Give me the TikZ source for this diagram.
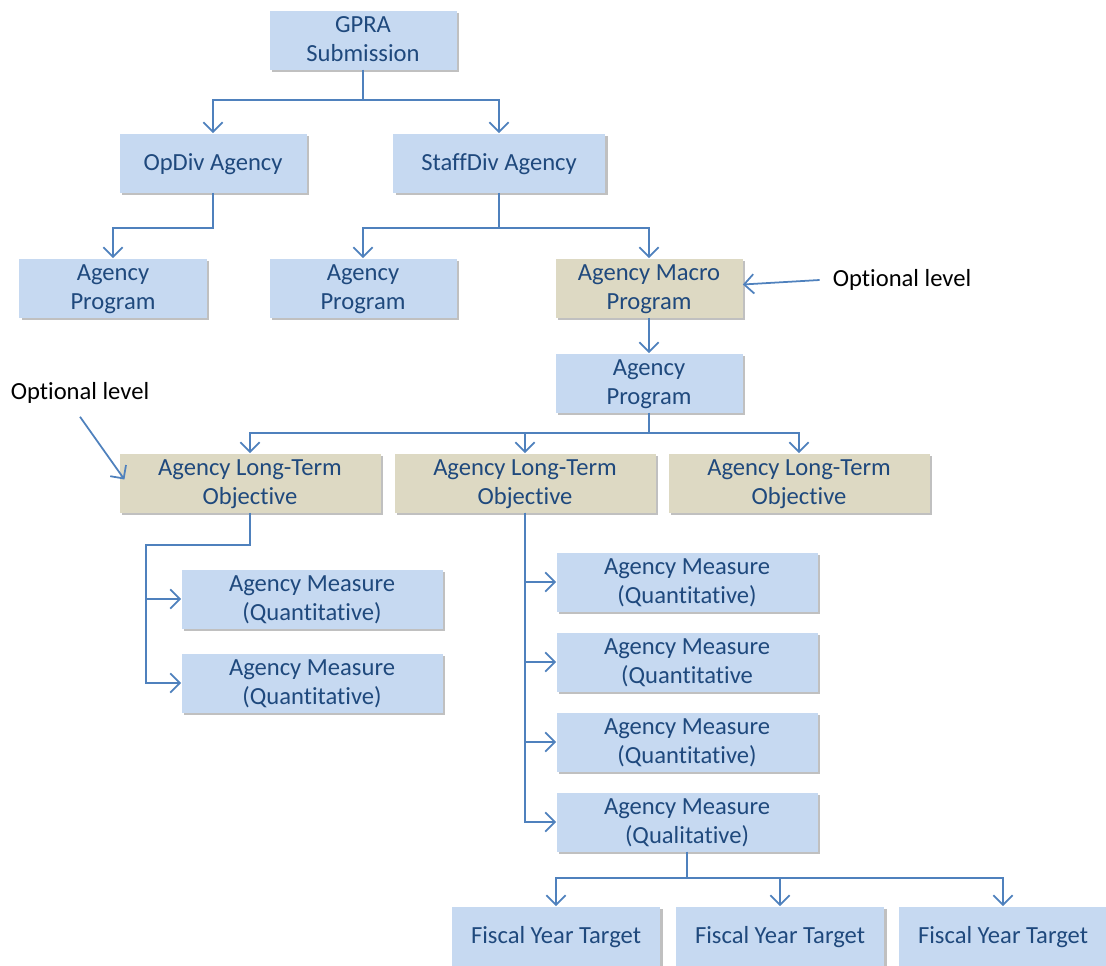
\documentclass[tikz,border=0pt]{standalone}
\usepackage{fontspec}
\setmainfont{Carlito}[Ligatures=NoCommon]
\usepackage{tikz}
\usetikzlibrary{arrows.meta,shadows}
\usepackage{xcolor}
\definecolor{BoxBlue}{HTML}{C6D9F1}
\definecolor{BoxTan}{HTML}{DDD9C3}
\definecolor{TextBlue}{HTML}{1F497D}
\definecolor{LineBlue}{HTML}{4F81BD}

\tikzset{
  box/.style={fill=BoxBlue, text=TextBlue, align=center, inner sep=0pt,
    minimum width=#1, minimum height=1.18cm, text depth=1.5pt,
    font=\fontsize{14pt}{16.5pt}\selectfont,
    drop shadow={shadow xshift=1.6pt, shadow yshift=-1.6pt, fill=black!45, opacity=0.55}},
  box/.default=3.74cm,
  optbox/.style={box=#1, fill=BoxTan},
  optbox/.default=3.74cm,
  note/.style={font=\fontsize{14pt}{16.5pt}\selectfont, text=black},
  link/.style={draw=LineBlue, line width=1pt, -{Straight Barb[length=5.5pt,width=11pt]}},
}

\begin{document}
\begin{tikzpicture}[x=0.2mm, y=-0.2mm]  % pixel grid, y down
  \useasboundingbox (0,0) rectangle (1106,965);

  % top levels
  \node[box] (gpra) at (363,40) {GPRA\\Submission};
  \node[box] (opdiv) at (213,163) {OpDiv Agency};
  \node[box=4.24cm] (staffdiv) at (499,163) {StaffDiv Agency};
  \node[box] (progA) at (113,288) {Agency\\Program};
  \node[box] (progB) at (363,288) {Agency\\Program};
  \node[optbox] (macro) at (649,288) {Agency Macro\\Program};
  \node[box] (progC) at (649,383) {Agency\\Program};

  % objectives
  \node[optbox=5.22cm] (lto1) at (250,483) {Agency Long-Term\\Objective};
  \node[optbox=5.22cm] (lto2) at (525,483) {Agency Long-Term\\Objective};
  \node[optbox=5.22cm] (lto3) at (799,483) {Agency Long-Term\\Objective};

  % measures
  \node[box=5.22cm] (mq1) at (312,599) {Agency Measure\\(Quantitative)};
  \node[box=5.22cm] (mq2) at (312,683) {Agency Measure\\(Quantitative)};
  \node[box=5.22cm] (mr1) at (687,582) {Agency Measure\\(Quantitative)};
  \node[box=5.22cm] (mr2) at (687,662) {Agency Measure\\(Quantitative};
  \node[box=5.22cm] (mr3) at (687,742) {Agency Measure\\(Quantitative)};
  \node[box=5.22cm] (mr4) at (687,822) {Agency Measure\\(Qualitative)};

  % targets
  \node[box=4.16cm] (fy1) at (556,936) {Fiscal Year Target};
  \node[box=4.16cm] (fy2) at (780,936) {Fiscal Year Target};
  \node[box=4.16cm] (fy3) at (1003,936) {Fiscal Year Target};

  % notes
  \node[note] (optR) at (902,280) {Optional level};
  \node[note] (optL) at (80,393) {Optional level};

  % connectors
  \draw[link] (gpra.south) -- ++(0,30) -| (opdiv.north);
  \draw[link] (gpra.south) -- ++(0,30) -| (staffdiv.north);
  \draw[link] (opdiv.south) -- ++(0,35) -| (progA.north);
  \draw[link] (staffdiv.south) -- ++(0,35) -| (progB.north);
  \draw[link] (staffdiv.south) -- ++(0,35) -| (macro.north);
  \draw[link] (macro.south) -- (progC.north);
  \foreach \o in {lto1,lto2,lto3}
    \draw[link] (progC.south) -- ++(0,20) -| (\o.north);
  \coordinate (b1) at (146,545);
  \draw[link] (lto1.south) |- (b1) |- (mq1.west);
  \draw[link] (b1) |- (mq2.west);
  \foreach \m in {mr1,mr2,mr3,mr4}
    \draw[link] (lto2.south) |- (\m.west);
  \foreach \f in {fy1,fy2,fy3}
    \draw[link] (mr4.south) -- ++(0,26) -| (\f.north);
  \draw[link] ([xshift=-4pt]optR.west) -- ([yshift=2pt]macro.east);
  \draw[link] ([yshift=-4pt]optL.south) -- ([shift={(3pt,2pt)}]lto1.west);
\end{tikzpicture}
\end{document}
